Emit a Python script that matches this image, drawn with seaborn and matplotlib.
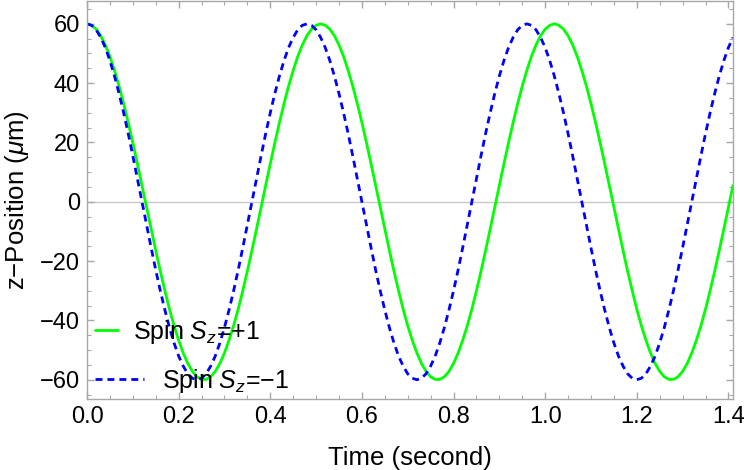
import numpy as np
import pandas as pd
import matplotlib
matplotlib.use("Agg")
import matplotlib.pyplot as plt
from matplotlib.lines import Line2D
import seaborn as sns


# -------------------------------
# Data
# -------------------------------

# time samples, 0.00 .. 1.41 s every 0.01 s
time_s = [round(0.01 * k, 2) for k in range(142)]

# Spin Sz=+1 (green), z position in um
green_cycle = [
    60.0, 59.5, 58.2, 56.0, 52.9, 49.0, 44.3, 39.0, 33.1, 26.7, 19.9, 12.8, 5.5,
    -1.8, -9.2, -16.4, -23.4, -30.0, -36.2, -41.8, -46.7, -51.0, -54.5, -57.2, -59.0, -59.9,
    -59.9, -59.0, -57.2, -54.5, -51.0, -46.7, -41.8, -36.2, -30.0, -23.4, -16.4, -9.2, -1.8,
    5.5, 12.8, 19.9, 26.7, 33.1, 39.0, 44.3, 49.0, 52.9, 56.0, 58.2, 59.5,
]
z_spin_up = (green_cycle * 3)[:142]

# Spin Sz=-1 (blue dashed), z position in um
blue_cycle = [
    60.0, 59.5, 58.0, 55.4, 52.0, 47.6, 42.4, 36.5, 30.0, 23.0, 15.5, 7.8, 0.0,
    -7.8, -15.5, -23.0, -30.0, -36.5, -42.4, -47.6, -52.0, -55.4, -58.0, -59.5, -60.0,
    -59.5, -58.0, -55.4, -52.0, -47.6, -42.4, -36.5, -30.0, -23.0, -15.5, -7.8, 0.0,
    7.8, 15.5, 23.0, 30.0, 36.5, 42.4, 47.6, 52.0, 55.4, 58.0, 59.5,
]
z_spin_down = (blue_cycle * 3)[:142]

labels = ["Spin $S_z$=+1", "Spin $S_z$=\u22121"]

df = pd.DataFrame({
    "Time": time_s * 2,
    "z": z_spin_up + z_spin_down,
    "Spin": [labels[0]] * 142 + [labels[1]] * 142,
})


# -------------------------------
# Style
# -------------------------------

sns.set_theme(style="ticks")
plt.rcParams["font.family"] = ["Liberation Sans", "DejaVu Sans"]
plt.rcParams["mathtext.fontset"] = "custom"
plt.rcParams["mathtext.rm"] = "Liberation Sans"
plt.rcParams["mathtext.it"] = "Liberation Sans:italic"
plt.rcParams["mathtext.default"] = "it"
plt.rcParams["text.color"] = "black"
plt.rcParams["axes.labelcolor"] = "black"

frame_gray = "#a8a8a8"
green = "#00ff00"
blue = "#0000ff"
lw = 2.0
dash = (0, (2.5, 1.8))

fig = plt.figure(figsize=(7.47, 4.70), dpi=100)
ax = fig.add_axes([87 / 747, 1 - 399 / 470, (733 - 87) / 747, 398 / 470])

ax.axhline(0, color="#c8c8c8", lw=1, zorder=0)

sns.lineplot(
    data=df, x="Time", y="z", hue="Spin",
    palette=[green, blue],
    linewidth=lw, legend=False, ax=ax, sort=False,
)
ax.lines[-1].set_linestyle(dash)

ax.set_xlim(0, 1.41)
ax.set_ylim(-66.5, 67.7)
ax.set_xticks(np.arange(0, 1.41, 0.2))
ax.set_xticklabels(["0.0", "0.2", "0.4", "0.6", "0.8", "1.0", "1.2", "1.4"])
ax.set_xticks(np.arange(0, 1.41, 0.05), minor=True)
ax.set_yticks(np.arange(-60, 61, 20))
ax.set_yticklabels([str(v).replace("-", "\u2212") for v in range(-60, 61, 20)])
ax.set_yticks(np.arange(-65, 66, 5), minor=True)

ax.tick_params(which="both", direction="in", top=True, right=True,
               color=frame_gray, labelsize=17, labelcolor="black")
ax.tick_params(which="major", length=5, width=1, pad=5)
ax.tick_params(which="minor", length=3, width=0.8)
for sp in ax.spines.values():
    sp.set_color(frame_gray)
    sp.set_linewidth(1)

ax.set_xlabel("Time (second)", fontsize=18.5)
ax.set_ylabel("z\u2212Position ($\\mu$m)", fontsize=18.5)
ax.xaxis.label.set_va("center")
ax.xaxis.set_label_coords(0.5, (399 - 458) / 398)
ax.yaxis.label.set_va("center")
ax.yaxis.set_label_coords((17.5 - 87) / 646, 0.5)


# -------------------------------
# Legend (two staggered entries)
# -------------------------------

h_up = Line2D([], [], color=green, lw=lw)
h_down = Line2D([], [], color=blue, lw=lw, linestyle=dash)

leg1 = ax.legend([h_up], [labels[0]], loc="center left", frameon=False,
                 bbox_to_anchor=(95 / 747, 1 - 332 / 470),
                 bbox_transform=fig.transFigure, borderpad=0, borderaxespad=0,
                 handlelength=0.92, handletextpad=0.6, fontsize=18)
ax.add_artist(leg1)
ax.legend([h_down], [labels[1]], loc="center left", frameon=False,
          bbox_to_anchor=(95 / 747, 1 - 381 / 470),
          bbox_transform=fig.transFigure, borderpad=0, borderaxespad=0,
          handlelength=1.95, handletextpad=0.72, fontsize=18)

plt.savefig("out.png", dpi=100)
